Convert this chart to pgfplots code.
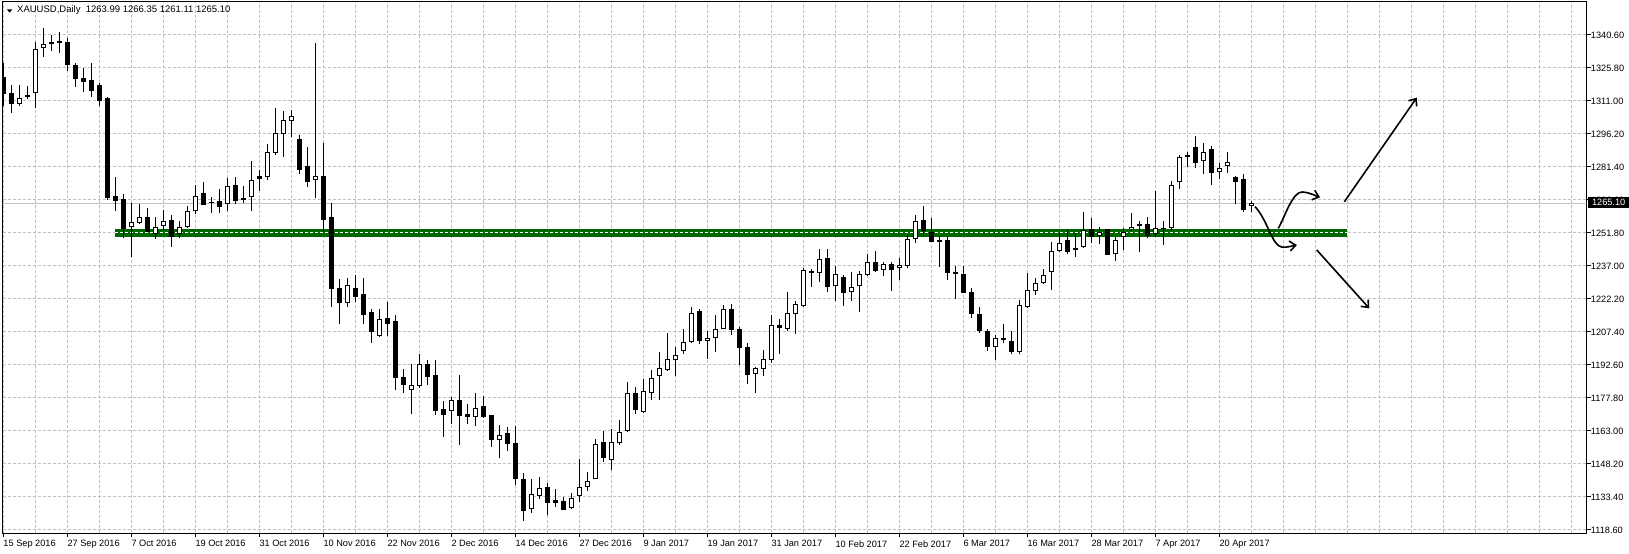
\documentclass[border=0pt]{standalone}
\usepackage{fontspec}
\setmainfont{Liberation Sans}
\usepackage{pgfplots}
\usepackage{pgfplotstable}
\pgfplotsset{compat=1.18}
\usetikzlibrary{arrows.meta}

\definecolor{gridgray}{RGB}{192,192,192}
\definecolor{bandgreen}{RGB}{0,102,0}

% daily bars: index, open, high, low, close
\pgfplotstableread{
i O H L C
0 1321.6 1327.9 1308.8 1314.0
1 1314.5 1318.2 1305.8 1309.5
2 1309.5 1318.2 1308.8 1312.2
3 1312.7 1317.7 1311.8 1313.6
4 1314.5 1337.6 1307.7 1334.2
5 1334.6 1343.6 1330.9 1336.6
6 1336.4 1340.6 1333.6 1337.3
7 1336.9 1341.8 1332.4 1337.8
8 1337.6 1339.4 1324.5 1327.0
9 1327.1 1327.9 1317.4 1321.0
10 1321.2 1325.7 1315.2 1319.7
11 1320.4 1328.2 1312.9 1315.6
12 1318.0 1319.2 1308.8 1311.1
13 1312.3 1312.9 1266.6 1267.5
14 1268.4 1277.1 1261.8 1266.3
15 1266.9 1269.3 1249.5 1253.7
16 1254.6 1265.4 1241.2 1256.7
17 1256.4 1264.8 1255.8 1258.8
18 1258.8 1263.1 1252.1 1252.4
19 1251.2 1259.1 1249.2 1254.4
20 1255.1 1262.1 1253.1 1257.3
21 1257.6 1259.9 1245.7 1250.1
22 1251.2 1257.2 1249.5 1254.6
23 1254.4 1264.0 1254.0 1261.5
24 1261.5 1273.2 1260.2 1268.3
25 1269.7 1274.5 1264.2 1264.5
26 1265.7 1267.8 1260.9 1265.4
27 1266.2 1271.7 1260.6 1263.3
28 1264.7 1276.6 1261.8 1272.9
29 1273.3 1276.8 1264.8 1266.0
30 1267.5 1272.9 1265.1 1266.7
31 1267.8 1284.1 1261.5 1275.4
32 1277.4 1280.1 1270.8 1276.2
33 1276.8 1291.6 1275.6 1288.0
34 1287.5 1308.0 1286.6 1296.5
35 1296.1 1306.5 1285.8 1302.3
36 1301.9 1307.0 1294.7 1304.1
37 1294.0 1295.8 1278.1 1280.2
38 1281.9 1290.5 1272.6 1274.8
39 1275.6 1337.1 1267.6 1277.2
40 1277.4 1292.0 1252.1 1257.8
41 1258.8 1265.1 1218.7 1226.8
42 1227.1 1231.2 1211.0 1220.5
43 1220.5 1231.6 1218.7 1228.3
44 1227.1 1232.8 1220.8 1223.2
45 1224.4 1231.6 1211.0 1215.2
46 1216.4 1217.9 1202.6 1207.4
47 1205.7 1217.7 1205.3 1213.1
48 1213.7 1220.8 1205.6 1211.1
49 1212.3 1215.0 1181.4 1186.9
50 1187.2 1190.8 1180.2 1183.8
51 1181.3 1193.0 1170.6 1183.5
52 1183.2 1197.5 1182.3 1193.0
53 1193.0 1194.8 1183.6 1187.3
54 1188.1 1194.8 1170.2 1172.1
55 1172.7 1176.5 1160.4 1170.3
56 1172.1 1178.2 1166.1 1176.8
57 1176.8 1188.1 1156.9 1169.9
58 1170.6 1175.0 1166.1 1169.4
59 1169.1 1179.9 1165.2 1173.2
60 1174.2 1178.7 1169.0 1169.4
61 1170.0 1170.2 1156.0 1159.0
62 1159.1 1165.7 1151.0 1161.1
63 1162.0 1164.6 1154.0 1157.3
64 1157.5 1165.2 1138.8 1141.6
65 1141.3 1144.2 1122.8 1127.2
66 1127.9 1141.5 1126.4 1134.6
67 1134.0 1142.4 1132.6 1137.3
68 1137.9 1139.5 1125.5 1130.8
69 1132.0 1137.0 1128.9 1130.6
70 1131.6 1133.5 1127.5 1127.7
71 1128.3 1135.0 1127.9 1132.8
72 1133.7 1150.4 1131.3 1137.7
73 1138.0 1144.6 1136.2 1140.4
74 1141.6 1159.4 1141.3 1157.2
75 1158.1 1162.9 1149.1 1151.0
76 1150.1 1163.9 1145.5 1157.9
77 1157.7 1167.9 1156.9 1162.4
78 1163.0 1185.0 1162.7 1179.9
79 1179.9 1182.6 1170.6 1172.3
80 1171.5 1186.2 1170.9 1180.8
81 1180.2 1190.4 1176.9 1186.6
82 1187.8 1198.4 1176.9 1191.1
83 1190.2 1207.1 1189.9 1195.2
84 1194.7 1200.5 1187.7 1196.9
85 1199.0 1208.6 1197.5 1202.8
86 1202.8 1218.6 1202.3 1215.8
87 1216.8 1217.6 1202.0 1203.5
88 1203.2 1207.8 1195.4 1204.6
89 1204.6 1215.0 1198.6 1208.6
90 1208.9 1219.6 1208.6 1217.6
91 1217.7 1220.1 1206.0 1208.3
92 1208.6 1209.6 1192.6 1200.4
93 1200.7 1202.5 1184.2 1188.2
94 1188.7 1191.8 1180.2 1191.1
95 1190.9 1199.3 1187.7 1195.2
96 1195.0 1215.0 1193.4 1210.4
97 1210.5 1213.4 1197.5 1209.3
98 1208.9 1225.3 1208.0 1215.8
99 1215.3 1221.3 1206.6 1220.0
100 1219.2 1236.0 1218.7 1235.2
101 1234.8 1235.7 1227.4 1233.7
102 1233.7 1244.6 1230.0 1240.0
103 1240.5 1244.6 1225.5 1227.7
104 1227.9 1237.1 1221.4 1233.4
105 1232.1 1233.1 1219.2 1224.8
106 1225.2 1234.3 1221.4 1227.4
107 1227.9 1234.8 1216.5 1233.3
108 1232.8 1242.4 1232.5 1238.7
109 1238.7 1243.7 1234.4 1234.6
110 1235.1 1238.8 1232.6 1237.9
111 1237.9 1238.7 1225.9 1235.3
112 1236.0 1240.6 1230.7 1237.3
113 1237.1 1250.9 1236.0 1249.1
114 1249.0 1259.9 1247.4 1257.0
115 1257.6 1263.9 1250.6 1252.6
116 1252.1 1258.5 1247.7 1247.9
117 1248.7 1250.4 1236.7 1247.9
118 1248.7 1249.9 1230.9 1234.0
119 1234.3 1237.1 1222.2 1233.5
120 1233.4 1237.0 1224.8 1225.0
121 1225.3 1227.3 1213.8 1215.6
122 1215.5 1218.6 1206.8 1208.0
123 1207.8 1208.9 1199.0 1200.8
124 1200.5 1206.1 1194.8 1204.6
125 1204.6 1211.0 1202.3 1203.7
126 1203.4 1207.8 1197.4 1198.6
127 1198.3 1221.8 1197.4 1219.4
128 1218.5 1234.0 1218.0 1226.1
129 1225.6 1231.6 1224.0 1229.4
130 1229.2 1235.7 1228.8 1233.0
131 1234.2 1247.8 1226.2 1243.6
132 1243.9 1251.7 1243.3 1247.5
133 1248.7 1253.1 1242.4 1243.4
134 1245.1 1251.7 1240.9 1244.3
135 1245.4 1261.1 1244.9 1253.0
136 1253.5 1258.5 1247.4 1250.1
137 1250.3 1254.5 1246.9 1252.1
138 1253.6 1253.8 1241.9 1242.1
139 1242.2 1250.1 1239.4 1248.7
140 1250.0 1253.9 1244.2 1252.4
141 1253.5 1260.9 1252.7 1254.6
142 1255.7 1257.2 1243.4 1255.1
143 1255.8 1258.8 1249.4 1250.6
144 1251.2 1270.6 1250.1 1253.9
145 1253.5 1257.2 1246.4 1253.7
146 1254.2 1275.1 1252.8 1273.3
147 1274.5 1286.8 1271.7 1285.8
148 1286.8 1288.3 1281.3 1286.0
149 1290.2 1295.3 1280.9 1283.3
150 1283.9 1292.2 1278.4 1288.0
151 1289.3 1290.8 1273.3 1278.8
152 1279.0 1283.1 1276.0 1280.8
153 1281.7 1288.3 1278.6 1283.7
154 1276.8 1277.4 1264.8 1274.5
155 1275.9 1278.3 1261.3 1262.2
156 1263.99 1266.35 1261.11 1265.10
}\candles

\begin{document}
\begin{tikzpicture}
\path[use as bounding box] (0,0) rectangle (1629bp,554bp);
\fill[white] (0,0) rectangle (1629bp,554bp);
\begin{axis}[
  at={(2.7bp,20.7bp)}, anchor=south west,
  scale only axis, width=1584bp, height=531.3bp,
  xmin=-0.075, xmax=197.925, ymin=1117.12, ymax=1355.40,
  axis line style={line width=1bp},
  tick align=outside, xtick pos=left, ytick pos=right, yticklabel pos=right,
  major tick length=4bp, minor tick length=0pt,
  tick style={black, line width=1bp},
  xtick={0,8,...,152},
  xticklabels={15 Sep 2016, 27 Sep 2016, 7 Oct 2016, 19 Oct 2016, 31 Oct 2016,
    10 Nov 2016, 22 Nov 2016, 2 Dec 2016, 14 Dec 2016, 27 Dec 2016, 9 Jan 2017,
    19 Jan 2017, 31 Jan 2017, 10 Feb 2017, 22 Feb 2017, 6 Mar 2017, 16 Mar 2017,
    28 Mar 2017, 7 Apr 2017, 20 Apr 2017},
  minor xtick={4,12,20,28,36,44,52,60,68,76,84,92,100,108,116,124,132,140,148,
    156,160,164,168,172,176,180,184,188,192,196},
  ytick={1118.6,1133.4,1148.2,1163.0,1177.8,1192.6,1207.4,1222.2,1237.0,1251.8,
    1266.6,1281.4,1296.2,1311.0,1325.8,1340.6},
  yticklabels={1118.60,1133.40,1148.20,1163.00,1177.80,1192.60,1207.40,1222.20,
    1237.00,1251.80,1266.60,1281.40,1296.20,1311.00,1325.80,1340.60},
  grid=both,
  major grid style={gridgray, line width=1bp, dash pattern=on 3bp off 2bp},
  minor grid style={gridgray, line width=1bp, dash pattern=on 3bp off 2bp},
  tick label style={font=\fontsize{9.2bp}{11bp}\selectfont, inner sep=0pt},
  xticklabel style={anchor=north west, yshift=-3bp},
  yticklabel style={anchor=west},
]
% bid line and support band
\draw[gridgray, line width=1bp] (axis cs:-1,1265.1) -- (axis cs:199,1265.1);
\fill[bandgreen] (axis cs:13.96,1249.85) rectangle (axis cs:168,1253.75);
\draw[white, line width=1bp, dash pattern=on 3bp off 2bp]
  (axis cs:13.96,1251.8) -- (axis cs:168,1251.8);

% wicks
\addplot[draw=none, mark=none, forget plot, error bars/.cd, y dir=plus, y explicit,
  error mark=none, error bar style={draw=black, line width=1bp}]
  table[x=i, y=L, y error expr=\thisrow{H}-\thisrow{L}]{\candles};
% bodies
\addplot[draw=none, mark=none, forget plot, error bars/.cd, y dir=plus, y explicit,
  error mark=none, error bar style={draw=black, line width=5bp}]
  table[x=i, y expr={min(\thisrow{O},\thisrow{C})},
    y error expr={max(abs(\thisrow{C}-\thisrow{O}),0.45)}]{\candles};
% hollow inside of up bars
\addplot[draw=none, mark=none, forget plot, error bars/.cd, y dir=plus, y explicit,
  error mark=none, error bar style={draw=white, line width=3bp}]
  table[x=i, y expr=\thisrow{O}+0.45,
    y error expr={max(\thisrow{C}-\thisrow{O}-0.9,0)}]{\candles};

% scenario arrows
\begin{scope}[line width=1.6bp, -{Straight Barb[length=6bp,width=10bp]}]
\draw (axis cs:156.46,1263.6) .. controls (axis cs:158.0,1258.0) and (axis cs:158.6,1246.0)
  .. (axis cs:159.8,1245.5) .. controls (axis cs:160.6,1245.2) and (axis cs:161.1,1246.1)
  .. (axis cs:161.7,1246.4);
\draw (axis cs:159.38,1253.9) .. controls (axis cs:160.3,1260.0) and (axis cs:161.2,1270.5)
  .. (axis cs:162.4,1270.2) .. controls (axis cs:163.3,1270.0) and (axis cs:164.0,1268.5)
  .. (axis cs:164.6,1267.8);
\draw (axis cs:167.63,1265.8) -- (axis cs:176.68,1312.5);
\draw (axis cs:164.18,1244.2) -- (axis cs:170.75,1218.0);
\end{scope}
\end{axis}

% header and price label
\fill (6.8bp,544.7bp) -- (12.4bp,544.7bp) -- (9.6bp,541.4bp) -- cycle;
\node[anchor=west, inner sep=0pt, font=\fontsize{9.5bp}{11bp}\selectfont]
  at (17bp,543.6bp) {XAUUSD,Daily\ \ 1263.99 1266.35 1261.11 1265.10};
\fill[black] (1588.3bp,346.3bp) rectangle (1629bp,356.7bp);
\node[anchor=west, inner sep=0pt, text=white, font=\fontsize{9.2bp}{11bp}\selectfont]
  at (1591.8bp,351.5bp) {1265.10};
\end{tikzpicture}
\end{document}
